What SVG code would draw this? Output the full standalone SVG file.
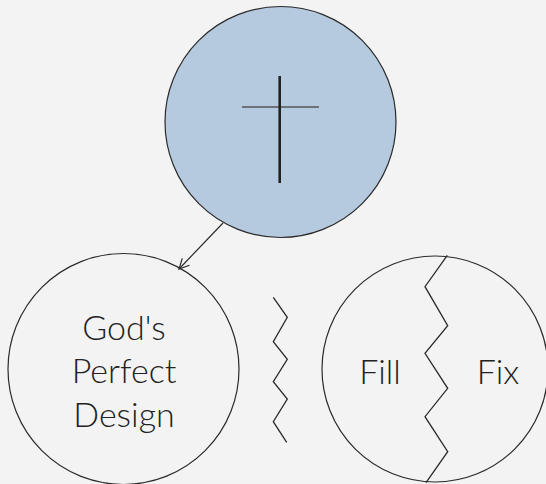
<svg xmlns="http://www.w3.org/2000/svg" width="546" height="484" viewBox="0 0 546 484">
  <defs>
    <style>
      .ring { fill: none; stroke: #2a2a2a; stroke-width: 1.2; }
      .zig { fill: none; stroke: #2a2a2a; stroke-width: 1.3; stroke-linejoin: miter; }
      .lbl { font-family: Lato, "Liberation Sans", sans-serif; font-weight: 300; font-size: 34px; fill: #222; text-anchor: middle; }
    </style>
    <marker id="open" viewBox="0 0 12 12" refX="11" refY="6" markerWidth="12" markerHeight="12" markerUnits="userSpaceOnUse" orient="auto">
      <path d="M1,1 L11,6 L1,11" fill="none" stroke="#2a2a2a" stroke-width="1.2"/>
    </marker>
  </defs>
  <rect width="546" height="484" fill="#f2f3f2"/>

  <g id="cross-node">
    <circle cx="280.5" cy="122" r="115.5" fill="#b5c9df" stroke="#2a2a2a" stroke-width="1.2"/>
    <line x1="242" y1="107" x2="319" y2="107" stroke="#555" stroke-width="1.5"/>
    <line x1="279.7" y1="76" x2="279.7" y2="183" stroke="#222" stroke-width="2.6"/>
  </g>

  <g id="design-node">
    <circle class="ring" cx="123.5" cy="369" r="115.5"/>
    <text class="lbl" x="124" y="340">God's</text>
    <text class="lbl" x="124" y="383">Perfect</text>
    <text class="lbl" x="124" y="427">Design</text>
  </g>

  <g id="fillfix-node">
    <circle class="ring" cx="435" cy="369" r="113"/>
    <polyline class="zig" points="447.3,255.3 425,286.7 447.7,325.7 425,353.3 447.7,388.3 425,416.7 447.7,451.7 426,482.7"/>
    <text class="lbl" x="380" y="384">Fill</text>
    <text class="lbl" x="498" y="384">Fix</text>
  </g>

  <g id="connectors">
    <line x1="223" y1="223" x2="179" y2="269" stroke="#2a2a2a" stroke-width="1.2" marker-end="url(#open)"/>
    <polyline class="zig" points="273.3,297.3 287.3,317.3 273.3,341.7 287.3,359.3 273.3,381.7 287.3,399 273.3,421.7 286.7,442.3"/>
  </g>
</svg>
